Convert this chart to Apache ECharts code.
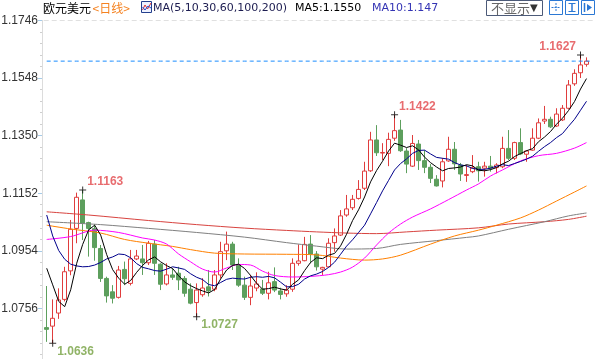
<!DOCTYPE html>
<html><head><meta charset="utf-8">
<script src="https://cdn.jsdelivr.net/npm/echarts@6/dist/echarts.min.js"></script>
<style>html,body{margin:0;padding:0;background:#fff;}#c{width:597px;height:359px;}</style>
</head><body><div id="c"></div>
<script>
// daily candles: [open, close, low, high]
const candles = [
[1.0690,1.0684,1.0641,1.0833],[1.0695,1.0722,1.0636,1.0787],[1.0740,1.0785,1.0720,1.0825],[1.0787,1.0882,1.0780,1.0899],
[1.0885,1.1028,1.0870,1.1060],[1.1031,1.1138,1.0980,1.1154],[1.1129,1.1049,1.0991,1.1163],[1.1051,1.1031,1.0934,1.1054],
[1.1030,1.0965,1.0920,1.1045],[1.0962,1.0859,1.0847,1.0974],[1.0859,1.0799,1.0776,1.0865],[1.0813,1.0791,1.0773,1.0836],
[1.0794,1.0888,1.0790,1.0902],[1.0890,1.0858,1.0836,1.0917],[1.0842,1.0926,1.0835,1.0957],[1.0926,1.0936,1.0922,1.0957],
[1.0926,1.0913,1.0871,1.0974],[1.0913,1.0980,1.0905,1.0988],[1.0977,1.0911,1.0871,1.0991],[1.0908,1.0839,1.0819,1.0911],
[1.0840,1.0871,1.0835,1.0911],[1.0871,1.0863,1.0854,1.0894],[1.0877,1.0854,1.0819,1.0899],[1.0859,1.0808,1.0796,1.0867],
[1.0822,1.0774,1.0770,1.0842],[1.0776,1.0819,1.0727,1.0842],[1.0803,1.0826,1.0796,1.0860],[1.0830,1.0816,1.0797,1.0888],
[1.0822,1.0871,1.0815,1.0888],[1.0871,1.0951,1.0859,1.0985],[1.0954,1.0977,1.0922,1.1020],[1.0977,1.0905,1.0888,1.0985],
[1.0905,1.0836,1.0830,1.0928],[1.0836,1.0794,1.0785,1.0865],[1.0794,1.0833,1.0767,1.0871],[1.0826,1.0840,1.0815,1.0880],
[1.0823,1.0808,1.0802,1.0854],[1.0808,1.0844,1.0787,1.0882],[1.0848,1.0819,1.0812,1.0897],[1.0816,1.0804,1.0787,1.0827],
[1.0806,1.0819,1.0796,1.0836],[1.0822,1.0911,1.0813,1.0928],[1.0911,1.0919,1.0903,1.0976],[1.0920,1.0976,1.0918,1.1002],
[1.0977,1.0943,1.0911,1.1008],[1.0943,1.0899,1.0886,1.0953],[1.0891,1.0897,1.0871,1.0899],[1.0899,1.0980,1.0897,1.0997],
[1.0982,1.1005,1.0951,1.1031],[1.1008,1.1074,1.1005,1.1094],[1.1077,1.1098,1.1071,1.1146],[1.1102,1.1131,1.1094,1.1146],
[1.1134,1.1165,1.1130,1.1197],[1.1169,1.1228,1.1163,1.1260],[1.1229,1.1335,1.1225,1.1363],[1.1335,1.1291,1.1280,1.1386],
[1.1290,1.1292,1.1266,1.1324],[1.1289,1.1337,1.1245,1.1360],[1.1341,1.1367,1.1332,1.1422],[1.1369,1.1298,1.1294,1.1404],
[1.1297,1.1252,1.1221,1.1307],[1.1245,1.1323,1.1242,1.1352],[1.1321,1.1264,1.1232,1.1335],[1.1264,1.1241,1.1221,1.1300],
[1.1241,1.1203,1.1187,1.1252],[1.1200,1.1177,1.1175,1.1214],[1.1194,1.1260,1.1172,1.1273],[1.1263,1.1303,1.1260,1.1346],
[1.1303,1.1253,1.1232,1.1328],[1.1249,1.1218,1.1194,1.1256],[1.1213,1.1216,1.1191,1.1249],[1.1226,1.1239,1.1221,1.1283],
[1.1243,1.1229,1.1192,1.1260],[1.1238,1.1245,1.1209,1.1260],[1.1245,1.1238,1.1226,1.1280],[1.1240,1.1249,1.1220,1.1255],
[1.1243,1.1306,1.1238,1.1346],[1.1306,1.1272,1.1266,1.1369],[1.1272,1.1326,1.1266,1.1329],[1.1326,1.1287,1.1283,1.1375],
[1.1286,1.1297,1.1260,1.1300],[1.1300,1.1341,1.1298,1.1375],[1.1341,1.1394,1.1338,1.1409],[1.1400,1.1406,1.1390,1.1452],
[1.1406,1.1380,1.1376,1.1415],[1.1383,1.1424,1.1380,1.1444],[1.1404,1.1444,1.1400,1.1455],[1.1444,1.1524,1.1440,1.1541],
[1.1528,1.1564,1.1521,1.1578],[1.1566,1.1593,1.1548,1.1627],[1.1595,1.1606,1.1587,1.1619]
];
const ma5 = [
1.0894,1.0837,1.0780,1.0762,1.0820,1.0911,1.0976,1.1026,1.1042,1.1008,
1.0941,1.0889,1.0860,1.0839,1.0852,1.0880,1.0904,1.0923,1.0933,1.0916,
1.0903,1.0893,1.0868,1.0847,1.0834,1.0824,1.0816,1.0809,1.0821,1.0857,
1.0888,1.0904,1.0908,1.0893,1.0869,1.0842,1.0822,1.0824,1.0829,1.0823,
1.0819,1.0839,1.0854,1.0886,1.0914,1.0930,1.0927,1.0939,1.0945,1.0971,
1.1011,1.1058,1.1095,1.1139,1.1191,1.1230,1.1262,1.1297,1.1324,1.1317,
1.1309,1.1315,1.1301,1.1276,1.1257,1.1242,1.1229,1.1237,1.1239,1.1242,
1.1250,1.1246,1.1231,1.1229,1.1233,1.1240,1.1253,1.1262,1.1278,1.1288,
1.1298,1.1305,1.1329,1.1345,1.1364,1.1389,1.1410,1.1436,1.1467,1.1510,
1.1546];
const ma10 = [
1.1077,1.1005,1.0955,1.0925,1.0908,1.0902,1.0899,1.0900,1.0905,1.0914,
1.0926,1.0933,1.0943,1.0941,1.0930,1.0910,1.0897,1.0892,1.0886,1.0884,
1.0891,1.0899,1.0895,1.0890,1.0875,1.0863,1.0855,1.0838,1.0834,1.0845,
1.0856,1.0860,1.0858,1.0857,1.0863,1.0865,1.0863,1.0866,1.0861,1.0846,
1.0830,1.0831,1.0839,1.0857,1.0868,1.0874,1.0883,1.0897,1.0915,1.0942,
1.0970,1.0992,1.1017,1.1042,1.1081,1.1120,1.1160,1.1196,1.1232,1.1254,
1.1270,1.1289,1.1299,1.1300,1.1287,1.1275,1.1272,1.1269,1.1257,1.1249,
1.1246,1.1237,1.1234,1.1234,1.1238,1.1245,1.1250,1.1247,1.1254,1.1261,
1.1269,1.1279,1.1296,1.1312,1.1326,1.1343,1.1357,1.1382,1.1406,1.1437,
1.1468];
// slower averages read at sample days: [day index, value]
const ma30 = [[0,1.0993],[4,1.1003],[8,1.1025],[12,1.1017],[16,1.0998],[18,1.0991],[20,1.0977],[22,1.0943],[24,1.0916],
[26,1.0891],[28,1.0881],[30,1.0895],[32,1.0907],[34,1.0905],[36,1.0884],[38,1.0869],[41,1.0864],[44,1.0866],[47,1.0872],
[49,1.0881],[51,1.0898],[53,1.0929],[55,1.0974],[57,1.1015],[59,1.1046],[61,1.1070],[64,1.1098],[67,1.1130],[70,1.1163],
[72,1.1184],[74,1.1211],[76,1.1232],[79,1.1263],[82,1.1281],[85,1.1289],[88,1.1307],[90,1.1326]];
const ma60 = [[0,1.1042],[4,1.1029],[9,1.1015],[13,1.0993],[17,1.0980],[21,1.0969],[24,1.0958],[28,1.0946],[33,1.0943],
[40,1.0942],[45,1.0940],[49,1.0929],[53,1.0922],[56,1.0926],[59,1.0939],[64,1.0977],[68,1.1005],[72,1.1025],[75,1.1042],
[79,1.1067],[82,1.1094],[85,1.1125],[88,1.1156],[90,1.1177]];
const ma100 = [[0,1.1054],[9,1.1044],[17,1.1031],[25,1.1017],[33,1.1001],[40,1.0982],[45,1.0970],[50,1.0960],[55,1.0962],
[59,1.0976],[65,1.0989],[70,1.1000],[72,1.1005],[77,1.1028],[83,1.1054],[87,1.1074],[90,1.1084]];
const ma200 = [[0,1.1088],[7,1.1077],[17,1.1058],[25,1.1044],[33,1.1032],[40,1.1024],[45,1.1019],[50,1.1015],[55,1.1013],
[60,1.1019],[65,1.1025],[72,1.1033],[77,1.1046],[83,1.1054],[87,1.1062],[90,1.1073]];
const highMarks = [[6,1.1163],[58,1.1422],[89,1.1627]];
const lowMarks = [[1,1.0636],[25,1.0727]];
const yTicks = {min: 1.0558, max: 1.1746, step: 0.0198};
const categories = Array.from({length: candles.length + 1}, (_, i) => String(i + 1));
const lastClose = candles[candles.length - 1][1];

const crossPath = 'path://M0,3H7V4H0Z M3,0H4V7H3Z';
function lineSeries(name, data, color, smooth, extra) {
  return Object.assign({name, type: 'line', data, showSymbol: false, symbol: 'none', smooth: smooth,
    lineStyle: {color, width: 1}, z: 3, silent: true}, extra || {});
}
const latin = '"DejaVu Sans", Verdana, sans-serif';
const cjk = '"Noto Sans CJK SC", sans-serif';

const chart = echarts.init(document.getElementById('c'), null, {renderer: 'canvas'});
chart.setOption({
  animation: false,
  backgroundColor: '#fff',
  grid: {left: 43.7, right: 1.5, top: 20.4, height: 345.6, outerBoundsMode: 'none', containLabel: false},
  xAxis: {type: 'category', data: categories, boundaryGap: true,
    axisLine: {show: false}, axisTick: {show: false}, axisLabel: {show: false}, splitLine: {show: false}},
  yAxis: {type: 'value', min: yTicks.min, max: yTicks.max, interval: yTicks.step, offset: 1.7, scale: true,
    axisLine: {show: true, lineStyle: {color: '#dcdcdc'}},
    axisTick: {show: true, length: 4, lineStyle: {color: '#a6cbe8'}},
    minorTick: {show: true, splitNumber: 5, length: 2, lineStyle: {color: '#cfcfcf'}},
    axisLabel: {margin: 4, color: '#333', fontSize: 12, fontFamily: '"Liberation Sans", Arial, sans-serif',
      formatter: v => v.toFixed(4)},
    splitLine: {show: false}},
  series: [
    {type: 'candlestick', data: candles, barWidth: 4, z: 2,
      itemStyle: {color: '#ffffff', color0: '#5d9f5d', borderColor: '#e03d3d', borderColor0: '#5d9f5d', borderWidth: 1},
      markLine: {symbol: 'none', silent: true, animation: false, precision: 4, label: {show: false},
        lineStyle: {color: '#e0e0e0', type: [5, 3], width: 1},
        data: [{yAxis: yTicks.max}]}},
    lineSeries('last', categories.map(() => lastClose), '#1a8cff', false,
      {lineStyle: {color: '#1a8cff', width: 1, type: [4, 3]}, z: 4}),
    lineSeries('MA200', ma200, '#d8433f', 0.3),
    lineSeries('MA100', ma100, '#808080', 0.3),
    lineSeries('MA60', ma60, '#ff8000', 0.3),
    lineSeries('MA30', ma30, '#ff00ff', 0.3),
    lineSeries('MA10', ma10, '#00008b', false),
    lineSeries('MA5', ma5, '#000000', false),
    {type: 'scatter', data: highMarks.map(d => ({value: d, label: {position: d[0] > candles.length - 6 ? 'left' : 'right'}})),
      symbol: crossPath, symbolSize: 7, itemStyle: {color: '#000'}, z: 5, silent: true,
      label: {show: true, distance: 1, offset: [0, -8], formatter: p => p.value[1].toFixed(4),
        color: '#e2474b', fontWeight: 'bold', fontSize: 12, fontFamily: '"Liberation Sans", Arial, sans-serif'}},
    {type: 'scatter', data: lowMarks, symbol: crossPath, symbolSize: 7, itemStyle: {color: '#000'}, z: 5, silent: true,
      label: {show: true, position: 'right', distance: 1, offset: [0, 8], formatter: p => p.value[1].toFixed(4),
        color: '#74a040', fontWeight: 'bold', fontSize: 12, fontFamily: '"Liberation Sans", Arial, sans-serif'}}
  ],
  graphic: [
    {type: 'text', x: 43, y: 8.5, style: {text: '欧元美元', fill: '#000', font: '12px ' + cjk, verticalAlign: 'middle'}},
    {type: 'text', x: 92.5, y: 8.5, style: {text: '<日线>', fill: '#f58220', font: '12px ' + cjk, verticalAlign: 'middle'}},
    {type: 'rect', shape: {x: 141.5, y: 1.5, width: 10, height: 11}, style: {fill: '#eef2ff', stroke: '#24408e', lineWidth: 1}},
    {type: 'polyline', shape: {points: [[142.5, 10], [145, 5], [147.5, 9], [151, 3]]}, style: {stroke: '#e03030', lineWidth: 1, fill: null}},
    {type: 'polyline', shape: {points: [[142.5, 7], [145, 10], [148, 6], [151, 8]]}, style: {stroke: '#2050d0', lineWidth: 1, fill: null}},
    {type: 'text', x: 153, y: 8.5, style: {text: 'MA(5,10,30,60,100,200)', fill: '#1c1c50', font: '11px ' + latin, verticalAlign: 'middle'}},
    {type: 'text', x: 295, y: 8.5, style: {text: 'MA5:1.1550', fill: '#000', font: '11px ' + latin, verticalAlign: 'middle'}},
    {type: 'text', x: 372, y: 8.5, style: {text: 'MA10:1.147', fill: '#3434b4', font: '11px ' + latin, verticalAlign: 'middle'}},
    {type: 'rect', shape: {x: 486.5, y: 0.5, width: 56, height: 15}, style: {fill: '#fff', stroke: '#4c5a78', lineWidth: 1}},
    {type: 'text', x: 491, y: 8.5, style: {text: '不显示', fill: '#666', font: '13px ' + cjk, verticalAlign: 'middle'}},
    {type: 'text', x: 530, y: 8.5, style: {text: '▼', fill: '#333', font: '10px ' + latin, verticalAlign: 'middle'}},
    {type: 'rect', shape: {x: 549.5, y: 0.5, width: 13, height: 14}, style: {fill: '#fff', stroke: '#2b78d4', lineWidth: 1}},
    {type: 'polyline', shape: {points: [[556, 3], [556, 12]]}, style: {stroke: '#2b78d4', lineWidth: 1, lineDash: [2, 1]}},
    {type: 'polyline', shape: {points: [[551.5, 7.5], [560.5, 7.5]]}, style: {stroke: '#2b78d4', lineWidth: 1, lineDash: [2, 1]}},
    {type: 'rect', shape: {x: 565.5, y: 0.5, width: 13, height: 14}, style: {fill: '#fff', stroke: '#2b78d4', lineWidth: 1}},
    {type: 'polyline', shape: {points: [[572, 3], [572, 12]]}, style: {stroke: '#2b78d4', lineWidth: 1.5}},
    {type: 'polyline', shape: {points: [[568.5, 3.5], [575.5, 3.5]]}, style: {stroke: '#2b78d4', lineWidth: 1}},
    {type: 'polyline', shape: {points: [[568.5, 11.5], [575.5, 11.5]]}, style: {stroke: '#2b78d4', lineWidth: 1}},
    {type: 'rect', shape: {x: 581.5, y: 0.5, width: 13, height: 14}, style: {fill: '#fff', stroke: '#2b78d4', lineWidth: 1}},
    {type: 'polyline', shape: {points: [[584.5, 3], [584.5, 12]]}, style: {stroke: '#2b78d4', lineWidth: 1.5}},
    {type: 'polygon', shape: {points: [[587, 4], [592, 7.5], [587, 11]]}, style: {fill: '#2b78d4'}}
  ]
});
</script></body></html>
